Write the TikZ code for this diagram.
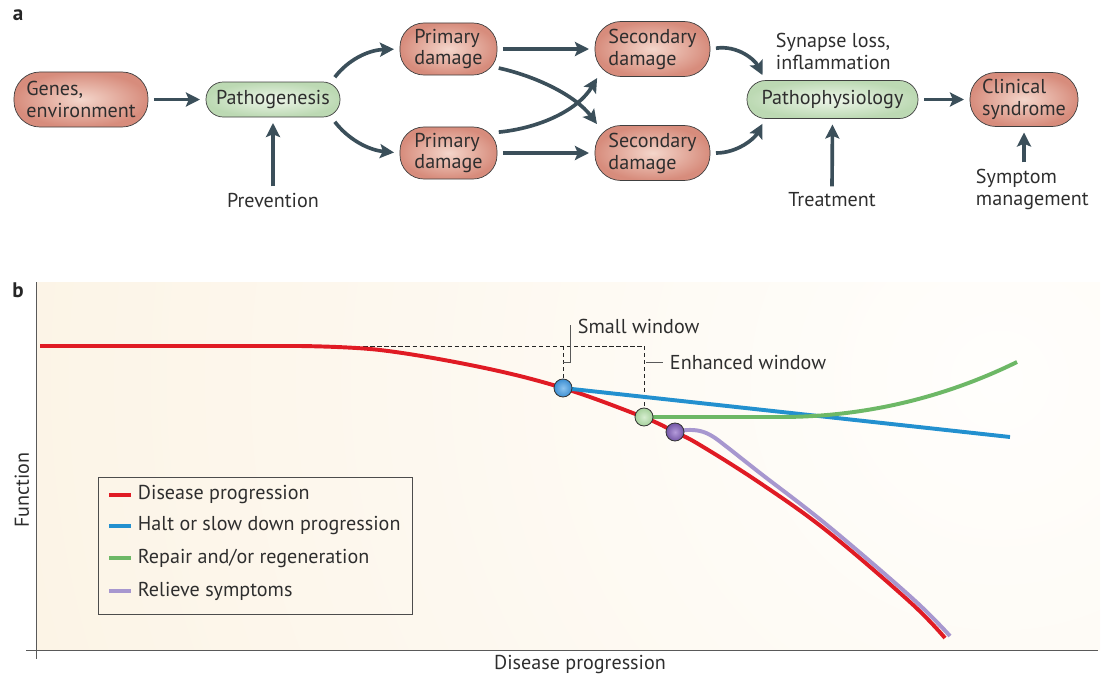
\documentclass[tikz,border=0pt]{standalone}
\usepackage{fontspec}
\setmainfont{PT Sans}
\usetikzlibrary{arrows.meta}
\definecolor{arrc}{HTML}{3B4F5A}
\definecolor{txt}{HTML}{2E2E2E}
\definecolor{redin}{HTML}{F4D6CB}
\definecolor{redout}{HTML}{D78C7C}
\definecolor{grnin}{HTML}{EEF6EA}
\definecolor{grnout}{HTML}{BCD9B3}
\definecolor{cred}{HTML}{E01B24}
\definecolor{cblue}{HTML}{2390CF}
\definecolor{cgreen}{HTML}{6DB866}
\definecolor{cpurp}{HTML}{A797CF}
\definecolor{bgcream}{HTML}{FCF4E6}
\definecolor{bgwhite}{HTML}{FFFEFC}
\definecolor{ballblue}{HTML}{3D8FD2}
\definecolor{ballblueL}{HTML}{8CC3EE}
\definecolor{ballgrn}{HTML}{A6D19C}
\definecolor{ballgrnL}{HTML}{D6EDD0}
\definecolor{ballpur}{HTML}{7457A6}
\definecolor{ballpurL}{HTML}{B49BDA}
\begin{document}
\begin{tikzpicture}[x=0.025cm,y=-0.025cm,
  every node/.style={font=\fontsize{14.3pt}{15.6pt}\selectfont, text=txt},
  box/.style={draw=black!75, line width=0.5pt, align=left, inner sep=0pt},
  redbox/.style={box, inner color=redin, outer color=redout},
  grnbox/.style={box, inner color=grnin, outer color=grnout},
  arrw/.style={draw=arrc, line width=2.6pt, -{Stealth[length=10pt,width=10pt,inset=2pt]}, shorten >=4pt, shorten <=4pt},
  uparrw/.style={arrw, shorten <=1pt},
  crossarrw/.style={arrw, shorten >=1pt, shorten <=1pt},
  ball/.style={circle, draw=black!80, line width=0.6pt, minimum size=0.45cm, inner sep=0pt},
  curve/.style={line width=2.8pt},
  thinline/.style={draw=black!65, line width=0.7pt},
  panel/.style={font=\bfseries\fontsize{15pt}{16pt}\selectfont, text=black!85},
  ]
\useasboundingbox (0,0) rectangle (1104,679);

% ---------------- panel a ----------------
\node[panel] (la) at (18,15) {a};
\node[redbox, minimum width=3.35cm, minimum height=1.375cm, rounded corners=0.65cm] (genes) at (81,99.5) {Genes,\\environment};
\node[grnbox, minimum width=3.35cm, minimum height=0.875cm, rounded corners=0.43cm] (patho) at (273,99.5) {Pathogenesis};
\node[redbox, minimum width=2.425cm, minimum height=1.3cm, rounded corners=0.6cm] (pd1) at (448.5,49) {Primary\\damage};
\node[redbox, minimum width=2.425cm, minimum height=1.3cm, rounded corners=0.6cm] (pd2) at (448.5,153) {Primary\\damage};
\node[redbox, minimum width=2.875cm, minimum height=1.375cm, rounded corners=0.65cm] (sd1) at (652.5,49) {Secondary\\damage};
\node[redbox, minimum width=2.875cm, minimum height=1.375cm, rounded corners=0.65cm] (sd2) at (652.5,153) {Secondary\\damage};
\node[grnbox, minimum width=4.275cm, minimum height=0.95cm, rounded corners=0.47cm] (phys) at (832.5,99.5) {Pathophysiology};
\node[redbox, minimum width=2.7cm, minimum height=1.35cm, rounded corners=0.65cm] (clin) at (1024,99.5) {Clinical\\syndrome};

\node (prev) at (273,200) {Prevention};
\node (treat) at (832,200) {Treatment};
\node[align=left, anchor=west] (syn) at (771,51) {Synapse loss,\\inflammation};
\node[align=left, anchor=west] (symp) at (971,189) {Symptom\\management};

\draw[arrw] (genes.east) -- (patho.west);
\draw[uparrw] (prev.north) -- (patho.south);
\draw[uparrw] (treat.north) -- (phys.south);
\draw[uparrw] (symp.north -| clin.south) -- (clin.south);
\draw[arrw] (phys.east) -- (clin.west);
\draw[arrw] (patho.17) .. controls (348,60) and (368,50) .. (pd1.west);
\draw[arrw] (patho.-17) .. controls (348,139) and (368,150) .. (pd2.west);
\draw[arrw] (pd1.east) -- (sd1.west);
\draw[arrw] (pd2.east) -- (sd2.west);
\draw[crossarrw] (pd1.-21) .. controls (535,76) and (575,95) .. (sd2.153);
\draw[crossarrw] (pd2.23) .. controls (540,128) and (578,110) .. (sd1.207);
\draw[arrw] (sd1.east) .. controls (738,45) and (755,60) .. (phys.164);
\draw[arrw] (sd2.east) .. controls (738,153) and (755,138) .. (phys.196);

% ---------------- panel b ----------------
\node[panel] (lb) at (18,290) {b};
\begin{scope}
  \clip (36,282) rectangle (1100,650);
  \shade[inner color=bgwhite, outer color=bgcream] (1000,380) circle (1000);
\end{scope}
\draw[thinline] (36,282) -- (36,659);
\draw[thinline] (26,650) -- (1098,650);
\node[rotate=90] (fy) at (22,490) {Function};
\node (fx) at (580,664) {Disease progression};

% dashed guides
\draw[black!85, line width=0.6pt, dash pattern=on 3pt off 2pt] (300,346) -- (644,346);
\draw[black!85, line width=0.6pt, dash pattern=on 3pt off 2pt] (563,346) -- (563,382);
\draw[black!85, line width=0.6pt, dash pattern=on 3pt off 2pt] (644,346) -- (644,410);
\draw[thinline] (570,325) -- (570,362) -- (563,362);
\draw[thinline] (646,362) -- (663,362);
\node[anchor=west] (sw) at (573,326) {Small window};
\node[anchor=west] (ew) at (665,362) {Enhanced window};

% curves
\draw[cred, curve] (40,346) -- (300,346);
\draw[cred, curve] plot[smooth, tension=0.6] coordinates {(300,346) (380,350) (480,367) (563,388) (643,417) (675,432) (700,445) (760,483) (827,531) (910,602) (945,638)};
\draw[cpurp, curve] plot[smooth, tension=0.6] coordinates {(675,432) (687,430) (700,431) (712,436) (727,447) (760,473) (827,525) (912,598) (950,636)};
\draw[cblue, curve] (563,388) -- (1010,437);
\draw[cgreen, curve] (644,417) -- (780,417) .. controls (880,417) and (960,390) .. (1017,362);

\node[ball, inner color=ballblueL, outer color=ballblue] (b1) at (563,388) {};
\node[ball, inner color=ballgrnL, outer color=ballgrn] (b2) at (644,417) {};
\node[ball, inner color=ballpurL, outer color=ballpur] (b3) at (675,432) {};

% legend
\node[draw=black!70, line width=0.7pt, minimum width=7.825cm, minimum height=3.425cm, inner sep=0pt] (legend) at (255.5,545.5) {};
\draw[cred, curve] (109,495) -- (131,495);
\draw[cblue, curve] (109,526) -- (131,526);
\draw[cgreen, curve] (109,558) -- (131,558);
\draw[cpurp, curve] (109,591) -- (131,591);
\node[anchor=west] (l1) at (133,495) {Disease progression};
\node[anchor=west] (l2) at (133,526) {Halt or slow down progression};
\node[anchor=west] (l3) at (133,558) {Repair and/or regeneration};
\node[anchor=west] (l4) at (133,591) {Relieve symptoms};
\end{tikzpicture}
\end{document}
